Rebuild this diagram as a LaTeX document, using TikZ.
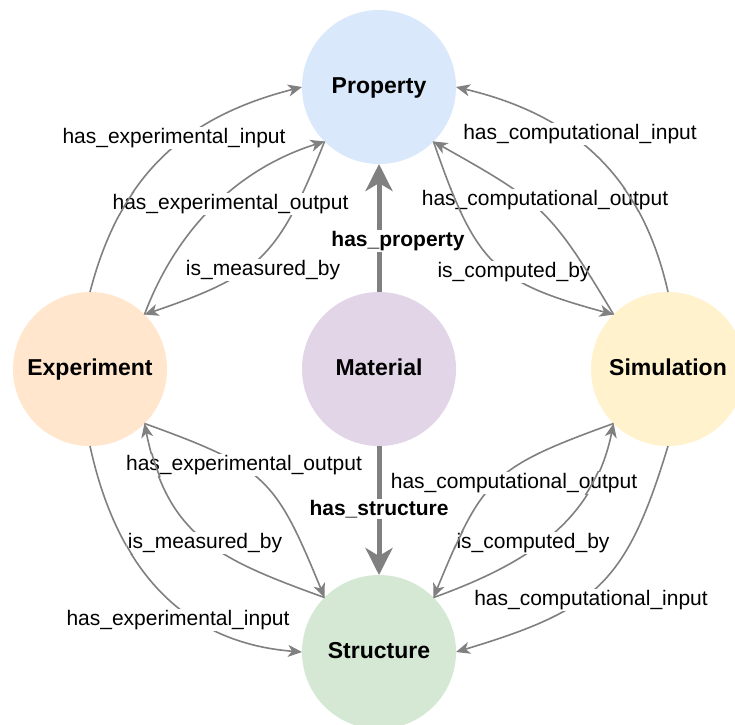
\documentclass[tikz,border=0pt]{standalone}
\usepackage{fontspec}
\setmainfont{Liberation Sans}
\usetikzlibrary{arrows.meta}
\definecolor{lgray}{RGB}{128,128,128}
\definecolor{cprop}{HTML}{DAE8FC}
\definecolor{cmat}{HTML}{E1D5E7}
\definecolor{cexp}{HTML}{FFE6CC}
\definecolor{csim}{HTML}{FFF2CC}
\definecolor{cstruc}{HTML}{D5E8D4}
\tikzset{
  entity/.style={circle,draw=none,minimum size=154pt,inner sep=0pt,outer sep=0pt,
    text height=16.5pt,text depth=4.1pt,
    font=\fontsize{23}{27}\selectfont\bfseries},
  edge/.style={draw=lgray,line width=1.6pt,-{Stealth[length=14pt,width=12pt,inset=4pt]}},
  edgeplain/.style={draw=lgray,line width=1.6pt},
  bigedge/.style={draw=lgray,line width=5pt,-{Stealth[length=27pt,width=27pt,inset=8pt]}},
  lbl/.style={fill=white,inner sep=1.5pt,font=\fontsize{21}{25}\selectfont},
  blbl/.style={fill=white,inner sep=1.5pt,font=\fontsize{21}{25}\selectfont\bfseries},
}
\def\eTLi{(exp.90) .. controls (120,176) and (184,117) .. (prop.180)}
\def\eTLo{(exp.45) .. controls (175,233) and (234,170) .. (prop.225)}
\def\eTLm{(prop.225) .. controls (278,258) and (260,275) .. (exp.45)}
\def\eTRi{(sim.90) .. controls (642,176) and (574,115) .. (prop.0)}
\def\eTRo{(sim.135) .. controls (550,208) and (541,202) .. (prop.315)}
\def\eTRc{(prop.315) .. controls (476,265) and (494,282) .. (sim.135)}
\def\eBLi{(exp.270) .. controls (118,575) and (188,643) .. (struc.180)}
\def\eBLo{(exp.315) .. controls (266.6,467.6) and (275.2,478) .. (struc.135)}
\def\eBLm{(struc.135) .. controls (216.5,558.5) and (167.4,536.1) .. (exp.315)}
\def\eBRi{(sim.270) .. controls (626,585) and (595,610) .. (struc.0)}
\def\eBRo{(sim.225) .. controls (491.4,467.6) and (482.8,478) .. (struc.45)}
\def\eBRc{(struc.45) .. controls (527.4,563.6) and (593.6,521.4) .. (sim.225)}
\begin{document}
\begin{tikzpicture}[x=1pt,y=-1pt]
\useasboundingbox (0,0) rectangle (735,724);
\clip (0,0) rectangle (735,724);
\fill[white] (0,0) rectangle (735,724);
% entities
\node[entity,fill=cprop] (prop) at (379,87) {Property};
\node[entity,fill=cmat] (mat) at (379,369) {Material};
\node[entity,fill=cexp] (exp) at (90,369) {Experiment};
\node[entity,fill=csim] (sim) at (668,369) {Simulation};
\node[entity,fill=cstruc] (struc) at (379,652) {Structure};
% main relations
\draw[bigedge] (mat.north) -- (prop.south);
\draw[bigedge] (mat.south) -- (struc.north);
\node[blbl] (lprop) at (398,241) {has\_property};
\node[blbl] (lstruc) at (379,509) {has\_structure};
% curved relations
\draw[edge] \eTLi; \draw[edge] \eTLo; \draw[edge] \eTLm;
\draw[edge] \eTRi; \draw[edge] \eTRo; \draw[edge] \eTRc;
\draw[edge] \eBLi; \draw[edge] \eBLo; \draw[edge] \eBLm;
\draw[edge] \eBRi; \draw[edge] \eBRo; \draw[edge] \eBRc;
% labels
\node[lbl] (lTLi) at (174,138) {has\_experimental\_input};
\node[lbl] (lTLo) at (230.5,204) {has\_experimental\_output};
\node[lbl] (lTLm) at (263,270) {is\_measured\_by};
\node[lbl] (lTRi) at (580,134) {has\_computational\_input};
\node[lbl] (lTRo) at (545,200) {has\_computational\_output};
\node[lbl] (lTRc) at (514,272) {is\_computed\_by};
\node[lbl] (lBLi) at (178,620) {has\_experimental\_input};
\node[lbl] (lBLo) at (244,465) {has\_experimental\_output};
\node[lbl] (lBLm) at (205,543) {is\_measured\_by};
\node[lbl] (lBRi) at (591,600) {has\_computational\_input};
\node[lbl] (lBRo) at (514,483) {has\_computational\_output};
\node[lbl] (lBRc) at (533,543) {is\_computed\_by};
% lines that run over other labels
\begin{scope}\clip (lTLo.south west) rectangle (lTLo.north east); \draw[edgeplain] \eTLi; \end{scope}
\begin{scope}\clip (lTRo.south west) rectangle (lTRo.north east); \draw[edgeplain] \eTRc; \draw[edgeplain] \eTRi; \end{scope}
\begin{scope}\clip (lTRc.south west) rectangle (lTRc.north east); \draw[edgeplain] \eTRo; \end{scope}
\begin{scope}\clip (lBLo.south west) rectangle (lBLo.north east); \draw[edgeplain] \eBLm; \end{scope}
\begin{scope}\clip (lBLm.south west) rectangle (lBLm.north east); \draw[edgeplain] \eBLi; \end{scope}
\begin{scope}\clip (lBRo.south west) rectangle (lBRo.north east); \draw[edgeplain] \eBRc; \end{scope}
\begin{scope}\clip (lBRc.south west) rectangle (lBRc.north east); \draw[edgeplain] \eBRo; \end{scope}
\end{tikzpicture}
\end{document}
